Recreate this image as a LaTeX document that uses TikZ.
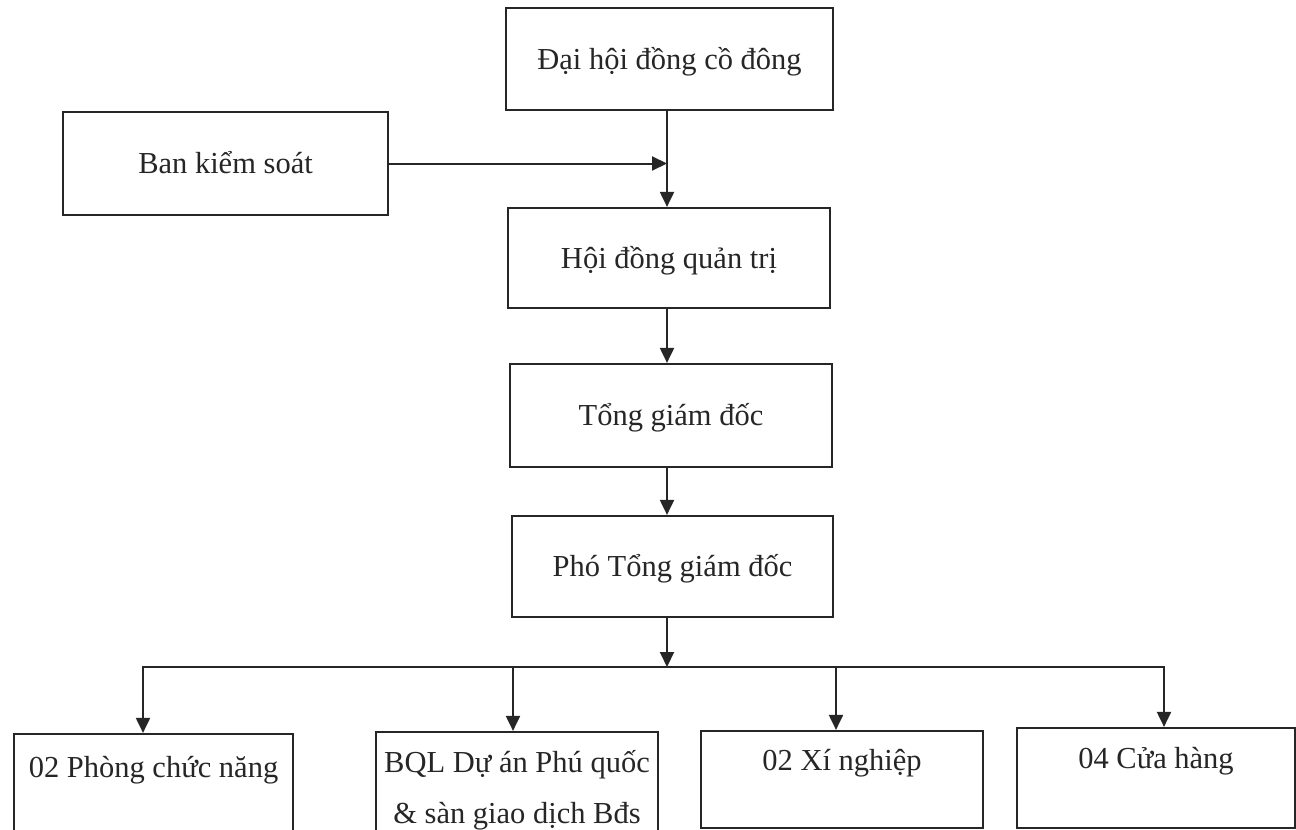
\documentclass[tikz,border=0pt]{standalone}
\usepackage{fontspec}
\setmainfont{Liberation Serif}
\usetikzlibrary{arrows.meta}
\begin{document}
\begin{tikzpicture}[x=1pt,y=-1pt,
  box/.style={draw=black!85, line width=2.2pt, inner sep=0pt, text=black!85,
    font=\fontsize{30.5}{51}\selectfont},
  topbox/.style={box, text height=20pt, text depth=0pt},
  conn/.style={draw=black!85, line width=2pt, line cap=rect},
  arr/.style={conn, -{Triangle[length=15pt,width=14pt]}}]
\useasboundingbox[fill=white] (0,0) rectangle (1296,830);
% upper chain
\node[topbox, minimum width=327pt, minimum height=102pt] (dai) at (669.5,59) {Đại hội đồng cồ đông};
\node[topbox, minimum width=325pt, minimum height=103pt] (ban) at (225.5,163.5) {Ban kiểm soát};
\node[topbox, minimum width=322pt, minimum height=100pt] (hdqt) at (669,258) {Hội đồng quản trị};
\node[topbox, minimum width=322pt, minimum height=103pt] (tgd) at (671,415.5) {Tổng giám đốc};
\node[topbox, minimum width=321pt, minimum height=101pt] (pho) at (672.5,566.5) {Phó Tổng giám đốc};
% lower boxes
\node[box, minimum width=279pt, minimum height=126pt, text height=20pt, text depth=60pt] (b1) at (153.5,797) {02 Phòng chức năng};
\node[box, minimum width=282pt, minimum height=128pt, text height=20pt, text depth=68pt] (b2) at (517,796)
  {\begin{tabular}[t]{@{}c@{}}BQL Dự án Phú quốc\\\& sàn giao dịch Bđs\end{tabular}};
\node[box, minimum width=282pt, minimum height=97pt, text height=20pt, text depth=39pt] (b3) at (842,779.5) {02 Xí nghiệp};
\node[box, minimum width=278pt, minimum height=100pt, text height=20pt, text depth=40pt] (b4) at (1156,778) {04 Cửa hàng};
% connector points
\coordinate (spine) at (667,0);
\coordinate (d1) at (143,667);
\coordinate (d2) at (513,667);
\coordinate (d3) at (836,667);
\coordinate (d4) at (1164,667);
\coordinate (hub) at (667,667);
% connectors
\draw[arr] (dai.south -| spine) -- (hdqt.north -| spine);
\draw[arr] (ban.east) -- (ban.east -| spine);
\draw[arr] (hdqt.south -| spine) -- (tgd.north -| spine);
\draw[arr] (tgd.south -| spine) -- (pho.north -| spine);
\draw[arr] (pho.south -| spine) -- (hub);
\draw[conn] (d1) -- (d4);
\draw[arr] (d1) -- (d1 |- b1.north);
\draw[arr] (d2) -- (d2 |- b2.north);
\draw[arr] (d3) -- (d3 |- b3.north);
\draw[arr] (d4) -- (d4 |- b4.north);
\end{tikzpicture}
\end{document}
